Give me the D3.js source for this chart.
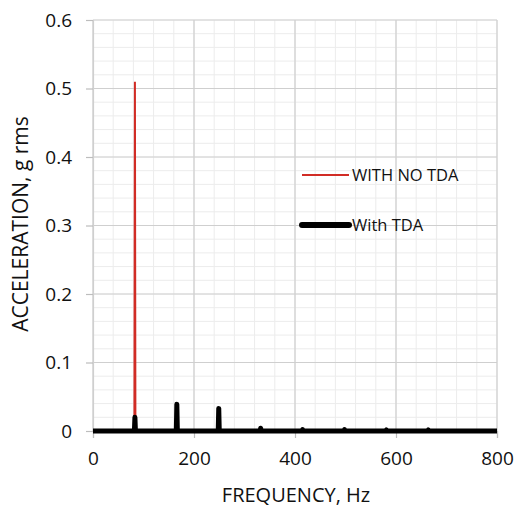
<!DOCTYPE html>
<html>
<head>
<meta charset="utf-8">
<script src="https://cdn.jsdelivr.net/npm/d3@7"></script>
<style>
  body { margin: 0; background: #fff; }
  text { font-family: "Open Sans", sans-serif; fill: #111; }
</style>
</head>
<body>
<script>
// spectrum samples, Hz and g rms
var freqNoTda = [0, 82, 83, 84, 800];
var accNoTda  = [0, 0, 0.51, 0, 0];

var freqTda = [0, 82, 83, 84, 165, 166, 167, 248, 249, 250, 331, 332, 333, 414, 415, 416, 497, 498, 499, 580, 581, 582, 663, 664, 665, 800];
var accTda  = [0, 0, 0.02, 0, 0, 0.039, 0, 0, 0.033, 0, 0, 0.004, 0, 0, 0.002, 0, 0, 0.002, 0, 0, 0.0015, 0, 0, 0.0015, 0, 0];

var xTicks = [0, 200, 400, 600, 800];
var yTicks = [0, 0.1, 0.2, 0.3, 0.4, 0.5, 0.6];

var legendItems = [
  {label: "WITH NO TDA", color: "#d12c25", width: 2},
  {label: "With TDA", color: "#000", width: 6}
];

var width = 515, height = 507;
var margin = {left: 93, right: 18, top: 20, bottom: 76};

var svg = d3.select("body").append("svg")
    .attr("width", width)
    .attr("height", height);

var x = d3.scaleLinear().domain([0, 800]).range([margin.left, width - margin.right]);
var y = d3.scaleLinear().domain([0, 0.6]).range([height - margin.bottom, margin.top]);

// minor grid
svg.append("g").selectAll("line")
    .data(d3.range(0, 801, 40))
    .enter().append("line")
    .attr("x1", x).attr("x2", x)
    .attr("y1", y(0)).attr("y2", y(0.6))
    .style("stroke", "#ececec").style("stroke-width", 1);
svg.append("g").selectAll("line")
    .data(d3.range(0, 31).map(function(i){ return i * 0.02; }))
    .enter().append("line")
    .attr("y1", y).attr("y2", y)
    .attr("x1", x(0)).attr("x2", x(800))
    .style("stroke", "#ececec").style("stroke-width", 1);

// major grid
svg.append("g").selectAll("line")
    .data(xTicks)
    .enter().append("line")
    .attr("x1", x).attr("x2", x)
    .attr("y1", y(0)).attr("y2", y(0.6))
    .style("stroke", "#cfcfcf").style("stroke-width", 1.2);
svg.append("g").selectAll("line")
    .data(yTicks)
    .enter().append("line")
    .attr("y1", y).attr("y2", y)
    .attr("x1", x(0)).attr("x2", x(800))
    .style("stroke", "#cfcfcf").style("stroke-width", 1.2);

// axes
var xAxis = svg.append("g")
    .attr("transform", "translate(0," + y(0) + ")")
    .call(d3.axisBottom(x).tickValues(xTicks).tickSize(7).tickPadding(14).tickFormat(d3.format("d")));
var yAxis = svg.append("g")
    .attr("transform", "translate(" + x(0) + ",0)")
    .call(d3.axisLeft(y).tickValues(yTicks).tickSize(7).tickPadding(14).tickFormat(function(d){ return d === 0 ? "0" : d3.format(".1f")(d); }));

[xAxis, yAxis].forEach(function(a){
  a.select(".domain").style("stroke", "#cfcfcf").style("stroke-width", 1.2);
  a.selectAll(".tick line").style("stroke", "#bdbdbd").style("stroke-width", 1.2);
  a.selectAll("text").style("font-size", "19px").style("font-family", "'Open Sans', sans-serif").style("fill", "#111");
});

// series
var line = d3.line()
    .x(function(d){ return x(d[0]); })
    .y(function(d){ return y(d[1]); });

svg.append("path")
    .datum(d3.zip(freqNoTda, accNoTda))
    .attr("d", line)
    .style("fill", "none")
    .style("stroke", legendItems[0].color)
    .style("stroke-width", legendItems[0].width);

svg.append("path")
    .datum(d3.zip(freqTda, accTda))
    .attr("d", line)
    .style("fill", "none")
    .style("stroke", legendItems[1].color)
    .style("stroke-width", 5)
    .style("stroke-linejoin", "round")
    .style("stroke-linecap", "butt");

// legend
var legend = svg.append("g").selectAll("g")
    .data(legendItems)
    .enter().append("g")
    .attr("transform", function(d, i){ return "translate(302," + (175 + i * 50) + ")"; });
legend.append("line")
    .attr("x1", 0).attr("x2", 47)
    .style("stroke", function(d){ return d.color; })
    .style("stroke-width", function(d){ return d.width; })
    .style("stroke-linecap", function(d, i){ return i ? "round" : "butt"; });
legend.append("text")
    .attr("x", 50).attr("dy", "0.35em")
    .style("font-size", "16.5px")
    .text(function(d){ return d.label; });

// axis titles
svg.append("text")
    .attr("x", 296)
    .attr("y", 502)
    .attr("text-anchor", "middle")
    .style("font-size", "20px")
    .text("FREQUENCY, Hz");
svg.append("text")
    .attr("transform", "translate(28,224) rotate(-90)")
    .attr("text-anchor", "middle")
    .style("font-size", "21px")
    .text("ACCELERATION, g rms");
</script>
</body>
</html>
